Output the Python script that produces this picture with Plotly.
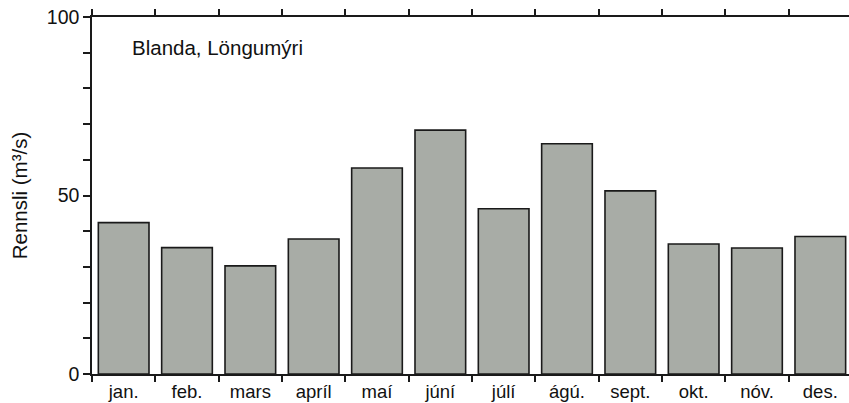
import plotly.graph_objects as go

months = ["jan.", "feb.", "mars", "apríl", "maí", "júní", "júlí", "ágú.", "sept.", "okt.", "nóv.", "des."]
flow = [42.4, 35.4, 30.3, 37.8, 57.7, 68.3, 46.3, 64.5, 51.3, 36.4, 35.3, 38.5]
y_ticks = [0, 50, 100]

fig = go.Figure()
fig.add_trace(go.Bar(
    x=months, y=flow, width=0.8,
    marker=dict(color="#a8aca6", line=dict(color="#1a1a1a", width=1.6)),
    showlegend=False,
))

font = "Liberation Sans, Arial, sans-serif"
fig.update_layout(
    width=849, height=403,
    margin=dict(l=92, r=0, t=17, b=29),
    plot_bgcolor="white", paper_bgcolor="white",
    font=dict(family=font, color="#111", size=16),
    xaxis=dict(
        type="category", range=[-0.5, 11.453], automargin=False,
        tickson="boundaries", ticks="outside", ticklen=6, tickwidth=1.5,
        tickcolor="#1a1a1a", showgrid=False, zeroline=False,
        showline=True, linecolor="#1a1a1a", linewidth=1.5, mirror="ticks",
        tickfont=dict(size=18.5),
    ),
    yaxis=dict(
        range=[0, 100], tickvals=y_ticks, automargin=False,
        ticks="outside", ticklen=7, tickwidth=1.5, tickcolor="#1a1a1a",
        showgrid=False, zeroline=False,
        showline=True, linecolor="#1a1a1a", linewidth=1.5,
        tickfont=dict(size=19.5),
        title=dict(text="Rennsli (m³/s)", font=dict(size=20.5), standoff=14),
        minor=dict(dtick=10, ticks="outside", ticklen=7, tickwidth=1.5,
                   tickcolor="#1a1a1a", showgrid=False),
    ),
)
fig.add_annotation(
    text="Blanda, Löngumýri", xref="paper", yref="paper",
    x=0.05, y=0.915, xanchor="left", yanchor="middle", showarrow=False,
    font=dict(size=20.5, family=font, color="#111"),
)
fig.write_html("out.html", config={"displayModeBar": False},
               post_script="document.body.style.margin='0';")
